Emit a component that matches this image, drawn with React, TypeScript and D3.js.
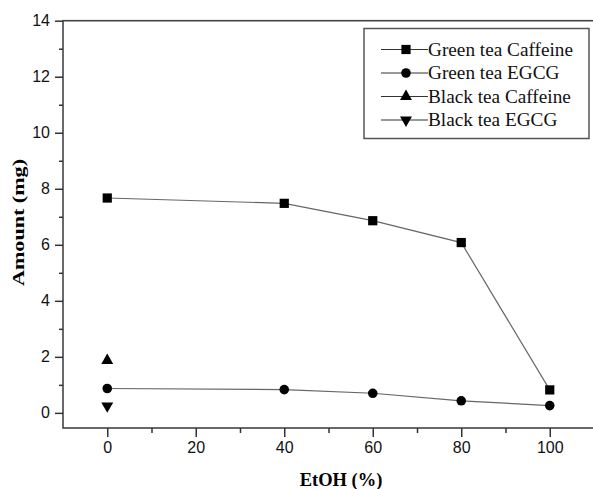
import React from "react";
import * as d3 from "d3";
import { useEffect, useRef } from "react";

const etoh = [0, 40, 60, 80, 100];
const greenCaffeine = [7.67, 7.48, 6.86, 6.08, 0.82];
const greenEgcg = [0.87, 0.83, 0.7, 0.43, 0.26];
const blackCaffeine = [{ x: 0, y: 1.87 }];
const blackEgcg = [{ x: 0, y: 0.25 }];
const xTicks = [0, 20, 40, 60, 80, 100];
const xMinor = [10, 30, 50, 70, 90];
const yTicks = [0, 2, 4, 6, 8, 10, 12, 14];
const yMinor = [1, 3, 5, 7, 9, 11, 13];
const legendNames = [
  "Green tea Caffeine",
  "Green tea EGCG",
  "Black tea Caffeine",
  "Black tea EGCG",
];

export default function App() {
  const svgRef = useRef<SVGSVGElement>(null);
  const width = 593;
  const height = 489;
  const left = 63;
  const right = 594;
  const top = 20.7;
  const bottom = 428;

  useEffect(() => {
    const svg = d3.select(svgRef.current);
    svg.selectAll("*").remove();

    const xScale = d3.scaleLinear().domain([-10, 110]).range([left, right]);
    const yScale = d3.scaleLinear().domain([-0.54, 14]).range([bottom, top]);

    const sq = d3.symbol().type(d3.symbolSquare).size(85);
    const circ = d3.symbol().type(d3.symbolCircle).size(72);
    const tri = d3.symbol().type(d3.symbolTriangle).size(62);

    // frame
    svg
      .append("rect")
      .attr("x", left)
      .attr("y", top)
      .attr("width", right - left)
      .attr("height", bottom - top)
      .attr("fill", "none")
      .attr("stroke", "#444")
      .attr("stroke-width", 1.6);

    // axes
    const xAxis = svg
      .append("g")
      .attr("transform", `translate(0, ${bottom})`)
      .call(
        d3.axisBottom(xScale).tickValues(xTicks).tickSize(9).tickPadding(5).tickFormat(d3.format("d"))
      );
    svg
      .append("g")
      .attr("transform", `translate(0, ${bottom})`)
      .call(d3.axisBottom(xScale).tickValues(xMinor).tickSize(5).tickFormat(() => ""));

    const yAxis = svg
      .append("g")
      .attr("transform", `translate(${left}, 0)`)
      .call(d3.axisLeft(yScale).tickValues(yTicks).tickSize(8).tickPadding(5).tickFormat(d3.format("d")));
    svg
      .append("g")
      .attr("transform", `translate(${left}, 0)`)
      .call(d3.axisLeft(yScale).tickValues(yMinor).tickSize(4).tickFormat(() => ""));

    svg.selectAll(".domain").remove();
    svg.selectAll(".tick line").attr("stroke", "#333").attr("stroke-width", 1.5);
    [xAxis, yAxis].forEach((g) =>
      g
        .selectAll("text")
        .attr("font-family", "Liberation Sans, Arial, sans-serif")
        .attr("font-size", 16)
        .attr("fill", "#111")
    );

    // lines
    const line = d3
      .line<number>()
      .x((d, i) => xScale(etoh[i]))
      .y((d) => yScale(d));

    [greenCaffeine, greenEgcg].forEach((s) => {
      svg
        .append("path")
        .attr("d", line(s))
        .attr("fill", "none")
        .attr("stroke", "#666")
        .attr("stroke-width", 1.2);
    });

    svg
      .selectAll(".gc")
      .data(greenCaffeine)
      .enter()
      .append("path")
      .attr("d", sq)
      .attr("transform", (d, i) => `translate(${xScale(etoh[i])}, ${yScale(d)})`)
      .attr("fill", "#000");

    svg
      .selectAll(".ge")
      .data(greenEgcg)
      .enter()
      .append("path")
      .attr("d", circ)
      .attr("transform", (d, i) => `translate(${xScale(etoh[i])}, ${yScale(d)})`)
      .attr("fill", "#000");

    svg
      .selectAll(".bc")
      .data(blackCaffeine)
      .enter()
      .append("path")
      .attr("d", tri)
      .attr("transform", (d) => `translate(${xScale(d.x)}, ${yScale(d.y)})`)
      .attr("fill", "#000");

    svg
      .selectAll(".be")
      .data(blackEgcg)
      .enter()
      .append("path")
      .attr("d", tri)
      .attr("transform", (d) => `translate(${xScale(d.x)}, ${yScale(d.y)}) rotate(180)`)
      .attr("fill", "#000");

    // axis titles
    svg
      .append("text")
      .attr("x", 341)
      .attr("y", 486)
      .attr("text-anchor", "middle")
      .attr("font-family", "Liberation Serif, Times New Roman, serif")
      .attr("font-weight", "bold")
      .attr("font-size", 18.5)
      .text("EtOH (%)");

    svg
      .append("text")
      .attr("transform", "translate(24, 222.5) rotate(-90)")
      .attr("text-anchor", "middle")
      .attr("font-family", "Liberation Serif, Times New Roman, serif")
      .attr("font-weight", "bold")
      .attr("font-size", 17)
      .attr("textLength", 127)
      .attr("lengthAdjust", "spacingAndGlyphs")
      .text("Amount (mg)");

    // legend
    const legend = svg.append("g").attr("transform", "translate(364, 28.5)");
    legend
      .append("rect")
      .attr("width", 225)
      .attr("height", 110)
      .attr("fill", "#fff")
      .attr("stroke", "#555")
      .attr("stroke-width", 1.5);

    const markers = [
      { sym: sq, rot: 0 },
      { sym: circ, rot: 0 },
      { sym: tri, rot: 0 },
      { sym: tri, rot: 180 },
    ];
    legendNames.forEach((name, i) => {
      const y = 21 + i * 23.5;
      legend
        .append("line")
        .attr("x1", 17)
        .attr("x2", 64)
        .attr("y1", y)
        .attr("y2", y)
        .attr("stroke", "#333")
        .attr("stroke-width", 1.2);
      legend
        .append("path")
        .attr("d", markers[i].sym)
        .attr("transform", `translate(42, ${y}) rotate(${markers[i].rot})`)
        .attr("fill", "#000");
      legend
        .append("text")
        .attr("transform", `translate(64, ${y + 6}) scale(1.07, 1)`)
        .attr("font-family", "Liberation Serif, Times New Roman, serif")
        .attr("font-size", 18)
        .attr("fill", "#111")
        .text(name);
    });
  }, []);

  return (
    <svg
      ref={svgRef}
      width={width}
      height={height}
      style={{ position: "absolute", left: 0, top: 0, background: "#fff" }}
    ></svg>
  );
}
